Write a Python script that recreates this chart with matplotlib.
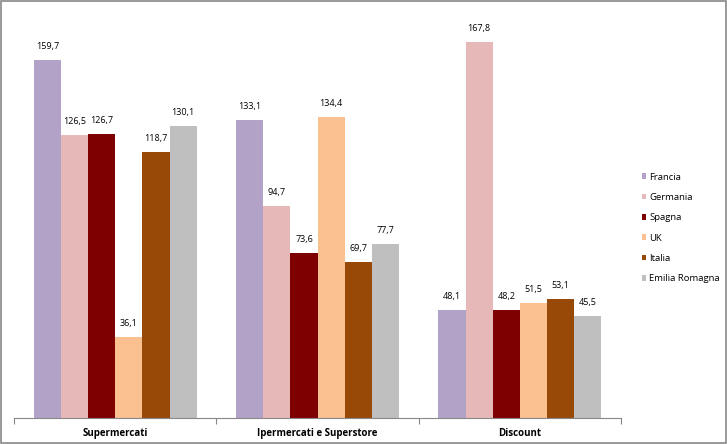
import numpy as np
import matplotlib.pyplot as plt
from matplotlib.patches import Rectangle

categories = ["Supermercati", "Ipermercati e Superstore", "Discount"]
countries = ["Francia", "Germania", "Spagna", "UK", "Italia", "Emilia Romagna"]
francia = [159.7, 133.1, 48.1]
germania = [126.5, 94.7, 167.8]
spagna = [126.7, 73.6, 48.2]
uk = [36.1, 134.4, 51.5]
italia = [118.7, 69.7, 53.1]
emilia = [130.1, 77.7, 45.5]
series = [francia, germania, spagna, uk, italia, emilia]
colors = ["#B3A2C7", "#E6B9B8", "#7F0000", "#FAC090", "#984807", "#BFBFBF"]

plt.rcParams['font.family'] = ['Open Sans', 'DejaVu Sans']

fig = plt.figure(figsize=(7.27, 4.44), dpi=100)
ax = fig.add_axes([0.0193, 0.0586, 0.835, 0.911])

x = np.arange(len(categories))
w = 1 / 7.44
for j, (vals, name, col) in enumerate(zip(series, countries, colors)):
    pos = x + (j - 2.5) * w
    ax.bar(pos, vals, width=w, color=col, label=name)
    for p, v in zip(pos, vals):
        ax.text(p, v + 4, f"{v:.1f}".replace(".", ","), ha='center', va='bottom',
                fontsize=6.5, color='black')

ax.set_xlim(-0.5, 2.5)
ax.set_ylim(0, 180.5)
ax.set_yticks([])
for s in ['left', 'right', 'top']:
    ax.spines[s].set_visible(False)
ax.spines['bottom'].set_color('#888888')
ax.set_xticks([-0.5, 0.5, 1.5, 2.5])
ax.set_xticklabels([])
ax.tick_params(axis='x', length=4, color='#888888', direction='out')
for i, c in enumerate(categories):
    ax.text(i, -0.024, c, transform=ax.get_xaxis_transform(), ha='center', va='top',
            fontsize=7, fontweight='bold')

leg = ax.legend(loc='center left', bbox_to_anchor=(1.02, 0.47), frameon=False,
                fontsize=6.8, handlelength=0.5, handleheight=0.5, handletextpad=0.3,
                labelspacing=1.2)

fig.patches.append(Rectangle((0.002, 0.003), 0.996, 0.994, transform=fig.transFigure,
                             fill=False, edgecolor='#888888', linewidth=1.2))

fig.savefig("out.png", dpi=100)
